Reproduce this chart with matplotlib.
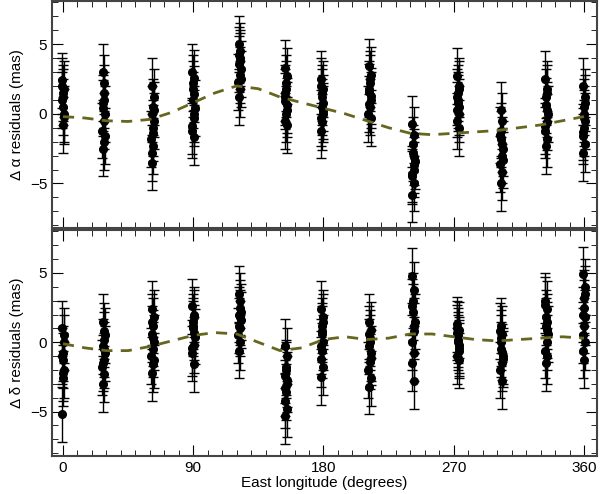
import matplotlib.pyplot as plt
from matplotlib.ticker import MultipleLocator

plt.rcParams['font.family'] = ['Liberation Sans', 'DejaVu Sans']

# cluster longitudes (degrees)
lon = [0, 28, 62, 90, 122, 154, 179, 212, 242, 273, 303, 334, 360]
# small spread of each observation inside a cluster
dx = [-0.6, 0.6, 0.0, -0.3, 0.9, 0.3, -0.9, 0.5, -0.5, 0.2, 0.7, -0.7]

# Delta alpha residuals (mas), one list per cluster
ra = [
    [2.4, 1.8, 1.2, 1.5, 0.0, -0.8, 1.0, -0.2, 2.0, 0.5],
    [3.0, 2.2, 1.5, 0.8, 0.0, -0.5, -1.2, -2.0, -2.5, 1.0, -1.6, 0.4],
    [2.0, 1.2, 0.5, 0.0, -0.5, -1.0, -1.8, -2.3, -3.5, -1.4, 0.3, -2.8],
    [3.0, 2.6, 1.8, 1.0, 0.4, -0.3, -0.9, -1.7, 2.2, 0.0, 1.4, -1.2],
    [5.0, 4.5, 4.0, 3.6, 3.2, 2.8, 2.3, 1.8, 1.2, 3.8, 2.5, 4.2],
    [3.3, 2.7, 1.8, 1.2, 0.6, 0.0, -0.5, -0.8, 1.5, 2.2, 0.3, 0.9],
    [2.5, 1.8, 1.2, 0.5, 0.0, -0.6, -1.2, 0.8, -0.3, 1.5, 0.2, 2.0],
    [3.4, 2.8, 2.2, 1.6, 1.0, 0.5, 0.0, -0.3, 1.8, 2.5, 1.3, 0.7],
    [-0.7, -1.5, -2.2, -2.8, -3.4, -4.0, -4.5, -5.0, -5.8, -3.1, -3.7, -4.3],
    [2.7, 2.0, 1.5, 1.0, 0.5, 0.0, -0.5, -1.0, 1.2, 0.8, 1.8, 0.3],
    [0.3, -0.5, -1.2, -1.8, -2.5, -3.0, -3.6, -4.2, -5.0, -2.2, -3.3, -1.5],
    [2.5, 1.8, 1.2, 0.6, 0.0, -0.6, -1.2, -1.8, -2.3, 1.5, 0.3, -0.9],
    [2.0, 1.2, 0.5, 0.0, -0.5, -1.0, -1.6, -2.2, -2.8, -0.3, 0.8, -1.3],
]

# Delta delta residuals (mas)
dec = [
    [1.0, 0.5, -0.8, -1.3, -2.0, -2.6, -5.2, 0.0, -1.0, -2.2],
    [1.5, 0.8, 0.2, -0.3, -0.8, -1.3, -1.8, -2.3, -3.0, -0.5, 0.5, -1.5],
    [2.4, 1.8, 1.2, 0.6, 0.0, -0.5, -1.0, -1.6, -2.2, 0.3, -1.3, 1.5],
    [2.6, 2.0, 1.5, 1.0, 0.4, -0.2, -0.8, -1.6, 1.2, 0.7, 1.8, -0.4],
    [3.5, 3.0, 2.5, 2.0, 1.6, 1.0, 0.5, 0.0, -0.6, 1.8, 2.2, 1.2],
    [-0.3, -1.0, -1.8, -2.4, -3.0, -3.6, -4.2, -4.8, -5.3, -2.0, -2.7, -3.3],
    [2.4, 1.8, 1.2, 0.6, 0.0, -0.6, -1.2, -1.8, -2.5, 0.8, 1.5, -0.3],
    [1.5, 0.9, 0.3, -0.3, -0.8, -1.4, -2.0, -2.6, -3.2, 0.0, -1.1, 0.6],
    [4.8, 3.8, 3.0, 2.2, 1.5, 0.8, 0.0, -0.8, -1.5, -2.8, 1.2, 2.6],
    [1.3, 0.9, 0.5, 0.2, -0.2, -0.6, -1.0, -1.3, 0.7, 0.0, -0.4, 1.0],
    [1.2, 0.6, 0.0, -0.5, -1.0, -1.5, -2.0, -2.8, 0.3, -0.7, -1.2, 0.8],
    [3.0, 2.4, 1.8, 1.2, 0.6, 0.0, -0.6, -1.0, -1.5, 1.5, 0.9, 2.7],
    [4.9, 4.0, 3.2, 2.5, 1.8, 1.2, 0.5, 0.0, -0.6, -1.3, 3.5, 2.0],
]
err = 2.0

# fitted model curves
curve_lon = [0, 15, 30, 45, 60, 75, 90, 105, 120, 135, 150, 165, 180, 195,
             210, 225, 240, 255, 270, 285, 300, 315, 330, 345, 360]
curve_ra = [-0.2, -0.3, -0.5, -0.55, -0.4, 0.1, 0.8, 1.5, 2.0, 1.8, 1.2, 0.8,
            0.4, 0.0, -0.5, -1.0, -1.4, -1.5, -1.4, -1.3, -1.2, -1.0, -0.8, -0.5, -0.2]
curve_dec = [-0.1, -0.4, -0.6, -0.6, -0.3, 0.1, 0.5, 0.7, 0.6, 0.0, -0.6, -0.4,
             0.2, 0.4, 0.2, 0.3, 0.6, 0.6, 0.4, 0.2, 0.1, 0.2, 0.3, 0.4, 0.3]

fig = plt.figure(figsize=(6.0, 4.94), dpi=100)
ax1 = fig.add_axes([52 / 600, 1 - 228 / 494, 545 / 600, 227 / 494])
ax2 = fig.add_axes([52 / 600, 1 - 456 / 494, 545 / 600, 226 / 494], sharex=ax1)

for ax, data, curve, lab in [(ax1, ra, curve_ra, "Δ α residuals (mas)"),
                             (ax2, dec, curve_dec, "Δ δ residuals (mas)")]:
    for x0, ys in zip(lon, data):
        xs = [x0 + d for d in dx[:len(ys)]]
        ax.errorbar(xs, ys, yerr=err, fmt="o", color="black", ms=5.5,
                    elinewidth=1.0, capsize=3.5, capthick=1.0)
    ax.plot(curve_lon, curve, "--", color="#66661e", lw=2, dashes=(4, 3), zorder=5)
    ax.set_xlim(-7.6, 369)
    ax.set_ylim(-8.2, 8.1)
    ax.set_ylabel(lab, fontsize=11)
    ax.xaxis.set_major_locator(MultipleLocator(90))
    ax.xaxis.set_minor_locator(MultipleLocator(10))
    ax.yaxis.set_major_locator(MultipleLocator(5))
    ax.yaxis.set_minor_locator(MultipleLocator(1))
    ax.tick_params(which="both", direction="in", top=True, right=True, labelsize=11)
    ax.tick_params(which="major", length=8)
    ax.tick_params(which="minor", length=4)
    for s in ax.spines.values():
        s.set_linewidth(1.5)
        s.set_color("#444444")

plt.setp(ax1.get_xticklabels(), visible=False)
ax2.set_xlabel("East longitude (degrees)", fontsize=11, labelpad=1)
fig.savefig("out.png", dpi=100)
